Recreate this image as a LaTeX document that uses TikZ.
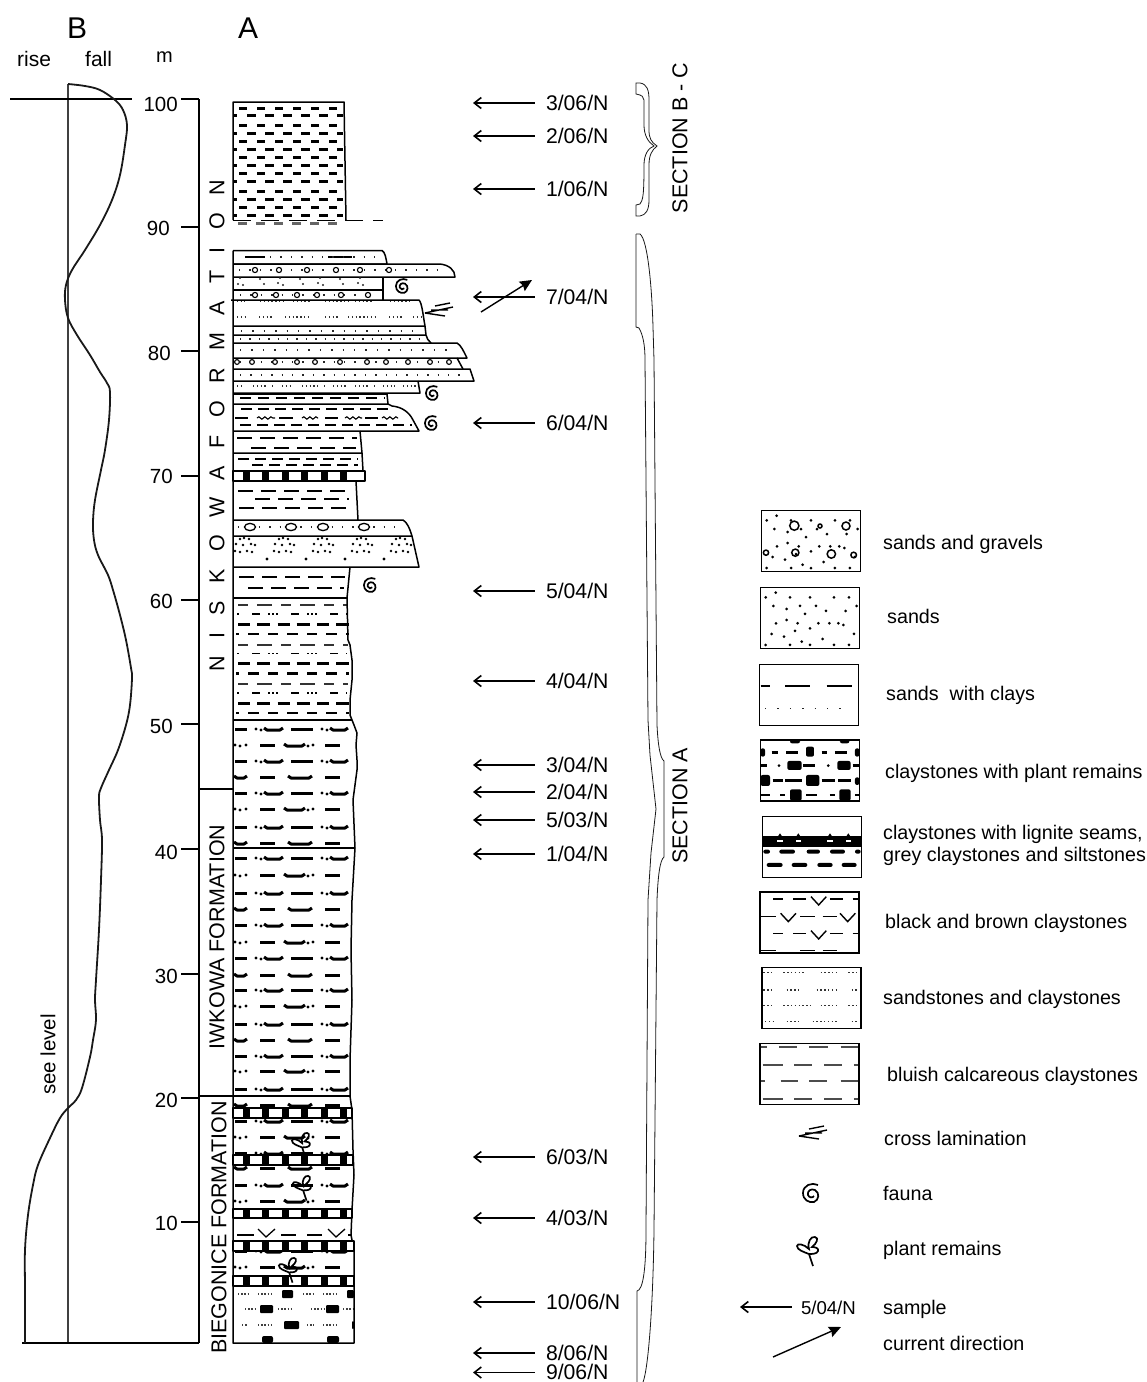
\documentclass[tikz,border=0pt]{standalone}
\usepackage{fontspec}
\setmainfont{Liberation Sans}
\usepackage{tikz}
\usetikzlibrary{arrows.meta}
\usetikzlibrary{decorations.pathmorphing}

\tikzset{
	sample/.style={anchor=west,inner sep=0pt,outer xsep=11pt,text height=14pt,text depth=0pt,font=\fontsize{21.2}{22}\selectfont},
	samplearrow/.style={line width=1.6pt,{Straight Barb[length=7pt,width=11pt,line width=1.6pt]}-},
	currentarrow/.style={line width=1.4pt,-{Stealth[length=12pt,width=11pt,inset=1.5pt]}},
	legbox/.style={draw,line width=1.4pt,inner sep=0pt,minimum width=99pt,minimum height=61pt},
	legtext/.style={anchor=base west,inner sep=0pt,font=\fontsize{19.7}{22}\selectfont},
	axislabel/.style={anchor=east,inner sep=0pt,font=\fontsize{20.5}{22}\selectfont},
	formation/.style={rotate=90,inner sep=0pt,font=\fontsize{21.5}{24}\selectfont},
	bed/.style={line width=1.5pt,line join=round},
	blob/.style={line width=3pt,line join=round},
	thinclay/.style={line width=1.2pt,dash pattern=on 14pt off 9pt},
	thickdash/.style={line width=3pt},
	dotrow/.style={line width=1.4pt,black!85,dash pattern=on 1.4pt off 9pt},
	sandline/.style={line width=1.4pt,black!80,dash pattern=on 1.4pt off 2.4pt},
	pebble/.style={line width=1.1pt,fill=white},
	faunamark/.pic={
		\draw[line width=1.7pt] (7,-8) .. controls (1,-11) and (-8,-8) .. (-8,0) .. controls (-8,7) and (-2,10) .. (3,9) .. controls (8,7) and (9,0) .. (4,-3) .. controls (0,-5) and (-4,-2) .. (-3,2) .. controls (-2,5) and (2,5) .. (3,3);
	},
	plantmark/.pic={
		\draw[line width=1.7pt] (3,16) -- (-1,4) .. controls (-6,2) and (-13,0) .. (-13,-4) .. controls (-13,-7) and (-6,-6) .. (-1,-1) .. controls (-3,-8) and (1,-14) .. (5,-13) .. controls (9,-12) and (7,-7) .. (2,-3) .. controls (5,-3) and (9,-2) .. (8,1) .. controls (7,4) and (2,4) .. (-1,4);
	},
	crossmark/.pic={
		\draw[line width=1.4pt] (0,0) -- (28,-6) (10,-7) -- (25,-10) (0,0) -- (20,3) (6,-3) -- (23,-3);
	},
}

\newcommand{\cdash}[3]{\draw[blob] (#1,#3) -- (#2,#3);}
\newcommand{\cwave}[3]{\draw[blob] (#1,#3-1) -- (#1+3,#3+1) -- (#2-3,#3+1) -- (#2,#3-1);}
\newcommand{\cspot}[2]{\fill (#1,#2) circle (1.7pt);}
\newcommand{\clayA}[1]{\cdash{235}{247}{#1}\cspot{256}{#1}\cspot{261}{#1+1}\cwave{264}{283}{#1}\cdash{291}{313}{#1}\cspot{322}{#1}\cspot{327}{#1+1}\cwave{330}{348}{#1}}
\newcommand{\clayB}[1]{\cspot{235}{#1}\cspot{240}{#1+1}\cspot{246}{#1}\cdash{260}{275}{#1}\cwave{284}{305}{#1}\cspot{308}{#1+1}\cspot{313}{#1}\cdash{325}{340}{#1}}
\newcommand{\clayD}[1]{\cwave{234}{247}{#1}\cdash{260}{275}{#1}\cwave{288}{312}{#1}\cdash{325}{340}{#1}}
\newcommand{\lignite}[3]{
	\draw[bed,fill=white] (233,#1) rectangle (#3,#2);
	\foreach \k in {0,...,5} \fill (243+19.4*\k,#1) rectangle (250+19.4*\k,#2);
}
\newcommand{\sandspots}{
	\foreach \px/\py in {137/278,107/292,180/292,240/292,312/292,357/292,130/318,170/327,210/318,258/318,288/333,347/333,380/318,170/360,225/342,203/370,138/370,298/370,325/370,265/370,340/375,240/385,125/402,195/393,372/402,162/410,278/417,215/425,107/435,180/435,240/435,312/435,357/435}
		\fill (\px,\py) circle (1.5pt);
}

\begin{document}
\begin{tikzpicture}[x=1pt,y=-1pt]
	\useasboundingbox (0,0) rectangle (1147,1382);

	\node[anchor=base west,inner sep=0pt,font=\fontsize{30}{32}\selectfont] (B) at (67,38) {B};
	\node[anchor=base west,inner sep=0pt,font=\fontsize{30}{32}\selectfont] (A) at (238,38) {A};
	\node[legtext,font=\fontsize{21}{22}\selectfont] (rise) at (17,66) {rise};
	\node[legtext,font=\fontsize{21}{22}\selectfont] (fall) at (85,66) {fall};
	\node[legtext,font=\fontsize{20}{22}\selectfont] (m) at (156,62) {m};

	\draw[line width=1.1pt,black!75] (68,84) -- (68,1343);
	\draw[line width=1.4pt] (10,99) -- (132,99);
	\draw[line width=1.4pt] (22,1343) -- (199,1343);
	\draw[line width=1.8pt,black!90] plot[smooth,tension=0.6] coordinates {(68,84) (85,86) (100,90) (115,100) (123,110) (127,125) (125,145) (120,175) (112,200) (100,225) (85,250) (72,270) (66,285) (65,300) (68,318) (77,335) (90,355) (100,372) (107,383) (110,392) (109,420) (105,450) (101,470) (95,500) (93,522) (94,540) (98,555) (108,575) (113,590) (120,615) (126,640) (131,668) (132,678) (130,705) (126,725) (118,750) (109,770) (101,788) (99,797) (100,820) (102,840) (101,880) (99,930) (96,980) (95,1000) (96,1020) (93,1040) (90,1057) (82,1088) (76,1100) (68,1108) (60,1118) (50,1138) (38,1165) (33,1185) (28,1215) (25,1250) (25,1290) (25,1343)};
	\node[rotate=90,inner sep=0pt,font=\fontsize{20.5}{22}\selectfont] (seelevel) at (48,1054.5) {see level};

	\draw[line width=1.3pt] (199,99) -- (199,1343);
	\foreach \lab/\lx/\ly/\ty in {100/178/104/99,90/170/228/227,80/171/353/351,70/173/476/476,60/173/601/600,50/173/726/724,40/178/852/849,30/178/976/974,20/178/1100/1098,10/178/1223/1222}{
		\node[axislabel] (t\lab) at (\lx,\ly) {\lab};
		\draw[line width=1.3pt] (181,\ty) -- (199,\ty);
	}
	\draw[line width=1.2pt] (199,789) -- (233,789);
	\draw[line width=1.2pt] (199,1096) -- (233,1096);

	\node[formation] (niskowa) at (217,426) {\spaceskip=17.4pt N I S K O W A F O R M A T I O N};
	\node[formation] (iwkowa) at (217,937) {IWKOWA FORMATION};
	\node[formation] (biegonice) at (219,1227.5) {BIEGONICE FORMATION};

	\foreach \yy in {108,125,141,157,173,191,207}
		\draw[thickdash,dash pattern=on 8pt off 10pt] (239,\yy) -- (343,\yy);
	\foreach \yy in {115.7,133,149,165,181,199,215}{
		\draw[thickdash] (233,\yy) -- (237,\yy);
		\draw[thickdash,dash pattern=on 9pt off 9pt] (247,\yy) -- (343,\yy);
	}
	\draw[thickdash,black!60,dash pattern=on 9pt off 9pt] (238,223) -- (343,223);
	\draw[bed] (233,220) -- (233,102) -- (344,102) -- (346,220);
	\draw[bed,dash pattern=on 18pt off 10pt] (233,220.5) -- (383,220.5);

	\draw[bed] (233,250.5) -- (382,250.5) .. controls (385,252) and (386,258) .. (387,264) -- (233,264);
	\draw[bed] (233,264) -- (440,264) .. controls (449,265) and (455,270) .. (455,277) -- (233,277);
	\draw[bed] (383,277) -- (383,300);
	\draw[bed] (233,290) -- (383,290);
	\draw[bed] (231,300) -- (419,300) .. controls (422,303) and (423,315) .. (425,326) -- (233,326);
	\draw[bed] (425,326) -- (426,335) -- (233,335);
	\draw[bed] (426,335) .. controls (427,338) and (428,341) .. (431,343);
	\draw[bed] (233,343) -- (457,343) .. controls (461,345) and (464,352) .. (467,358) -- (233,358);
	\draw[bed] (457,358) -- (463,369);
	\draw[bed] (233,369) -- (470,369) -- (474,381) -- (233,381);
	\draw[bed] (418,381) -- (420,393) -- (233,393);
	\draw[bed] (233,394) -- (387,394) -- (388,404) -- (233,404);
	\draw[bed] (388,404) -- (392,406) .. controls (402,407) and (409,412) .. (413,420) -- (419,431) -- (233,431);
	\draw[bed] (360,431) -- (362,453) -- (233,453);
	\draw[bed] (362,453) -- (363,471);
	\draw[bed] (356,481) -- (358,520);
	\draw[bed] (233,520) -- (403,520) .. controls (407,522) and (410,529) .. (412,536) -- (233,536);
	\draw[bed] (412,536) -- (419,567) -- (233,567);
	\draw[bed] (233,598) -- (347,598);
	\draw[bed] (350,567) -- (347,598);
	\draw[bed] (233,720) -- (352,720);
	\draw[bed] (233,848) -- (354,848);
	\draw[bed] (233,1096) -- (350,1096);

	\draw[line width=1.2pt] (245,257) -- (265,257) (328,257) -- (352,257);
	\draw[dotrow] (270,257) -- (380,257);
	\draw[dotrow] (239,270) -- (440,270);
	\foreach \xx in {255,279,307,336,360,389}
		\draw[pebble] (\xx,270) circle (2.6pt);
	\foreach \xx/\yy in {238/284,243/285,264/284,278/283,283/285,303/284,318/283,323/285,343/284,358/283,363/285,240/278,260/279,280/278,300/279,320/278,340/279,360/278}
		\fill[black!85] (\xx,\yy) circle (1.1pt);
	\draw[dotrow] (240,295) -- (372,295);
	\foreach \xx in {255,276,297,317,341,368}
		\draw[pebble] (\xx,295) circle (2.6pt);
	\foreach \xa/\xb in {233/245,260/283,293/310,325/350,355/373,390/410}
		\draw[sandline] (\xa,301.5) -- (\xb,301.5);
	\foreach \xa/\xb in {237/245,259/273,285/310,325/338,348/375,389/403,413/422}
		\draw[sandline] (\xa,317) -- (\xb,317);
	\draw[dotrow,dash pattern=on 1.4pt off 10pt] (241,331) -- (420,331);
	\draw[dotrow,dash pattern=on 1.4pt off 8pt] (240,339) -- (425,339);
	\draw[dotrow,dash pattern=on 1.4pt off 10pt] (240,350) -- (455,350);
	\draw[dotrow] (240,362) -- (450,362);
	\foreach \xx in {237,252,275,297,315,340,367,386,408,430,449}
		\draw[pebble] (\xx,362) circle (2.4pt);
	\draw[dotrow] (240,375) -- (465,375);
	\foreach \xa/\xb in {237/243,253/267,272/274,282/293,302/318,324/326,333/347,355/368,374/376,383/395,403/417}
		\draw[sandline] (\xa,386) -- (\xb,386);
	\draw[thinclay,dash pattern=on 11pt off 7pt] (240,398) -- (385,398);
	\draw[thinclay,dash pattern=on 11pt off 6pt] (241,409) -- (390,409);
	\foreach \xa/\xb in {235/248,279/293,325/338,365/378}
		\draw[line width=2pt] (\xa,418) -- (\xb,418);
	\foreach \xa/\xb in {257/275,302/318,345/362,382/398}
		\draw[line width=1.1pt,decorate,decoration={snake,amplitude=1.2pt,segment length=6pt}] (\xa,418) -- (\xb,418);
	\draw[thinclay,dash pattern=on 11pt off 6pt] (240,425) -- (412,425);
	\draw[thinclay,dash pattern=on 15pt off 8pt] (237,438) -- (357,438);
	\draw[thinclay,dash pattern=on 15pt off 8pt] (251,448) -- (356,448);
	\draw[thinclay,dash pattern=on 11pt off 6pt] (238,459) -- (358,459);
	\draw[thinclay,dash pattern=on 11pt off 6pt] (252,465) -- (358,465);
	\draw[thinclay,dash pattern=on 15pt off 8pt] (238,491) -- (352,491);
	\draw[thinclay,dash pattern=on 15pt off 8pt] (255,499) -- (349,499);
	\draw[thinclay,dash pattern=on 15pt off 8pt] (239,508) -- (353,508);
	\draw[dotrow] (238,527) -- (402,527);
	\foreach \xx in {250,291,323,364}
		\draw[pebble,line width=1.3pt] (\xx,527) ellipse (5.5pt and 3.6pt);
	\foreach \k in {0,...,4}
		\foreach \xx/\yy in {240/539,244/538,249/539,236/544,243/545,251/544,255/545,235/551,240/552,247/551,252/552}
			\fill (\xx+39*\k,\yy) circle (1.3pt);
	\foreach \xx in {267,306,345,384}
		\fill (\xx,559) circle (1.6pt);
	\draw[thinclay,dash pattern=on 15pt off 8pt] (239,577) -- (345,577);
	\draw[thinclay,dash pattern=on 15pt off 8pt] (248,588) -- (344,588);

	\foreach \yy in {605,644.5,684}{
		\draw[line width=2pt,black!80,dash pattern=on 10pt off 9pt on 15pt off 9pt] (238,\yy) -- (348,\yy);
		\draw[line width=1.6pt,dash pattern=on 8pt off 8pt on 1.6pt off 2.4pt on 1.6pt off 2.4pt on 1.6pt off 13.4pt,dash phase=23pt] (236,\yy+9) -- (347,\yy+9);
		\draw[line width=3pt,dash pattern=on 12pt off 7pt on 13pt off 7.7pt] (238,\yy+19) -- (349,\yy+19);
		\draw[line width=2.2pt,dash pattern=on 11pt off 9pt on 10pt off 9pt,dash phase=27pt] (236,\yy+29) -- (349,\yy+29);
	}
	\foreach \yy in {729,761,793,827,858,893,925,958,990,1024,1056,1089,1121,1153,1185,1251}{
		\clayA{\yy}
	}
	\foreach \yy in {745,809,875,942,1006,1071,1137,1201,1267}{
		\clayB{\yy}
	}
	\foreach \yy in {777,843,909,975,1040,1105,1168}{
		\clayD{\yy}
	}

	\foreach \xa/\xb in {237/254,281/296,307/322,348/351}
		\draw[line width=1.3pt] (\xa,1235) -- (\xb,1235);
	\foreach \xx in {258,328}
		\draw[line width=1.3pt] (\xx,1229) -- (\xx+8,1237) -- (\xx+17,1229);

	\foreach \yy/\xa/\xb in {1294/238/248,1294/258/272,1294/303/313,1294/323/337,1309/245/256,1309/278/292,1309/311/325,1309/343/353,1325/242/248,1325/258/272,1325/307/314,1325/323/337}
		\draw[line width=1.3pt,black!75,dash pattern=on 1.4pt off 1.8pt] (\xa,\yy) -- (\xb,\yy);
	\foreach \xa/\xb/\yy in {282/293/1294,347/354/1294,260/273/1309,326/339/1309,284/299/1325,352/354/1325}
		\fill[rounded corners=1pt] (\xa,\yy-4) rectangle (\xb,\yy+4);
	\foreach \xa/\xb in {262/273,327/339}
		\fill[rounded corners=2pt] (\xa,1343) rectangle (\xb,1336);

	\draw[bed] (233,250.5) -- (233,1343) -- (354,1343) -- (354,1300) -- (354,1250) -- (351,1235) -- (352,1210) -- (354,1175) -- (353,1150) -- (352,1110) -- (350,1096) -- (350,1060) -- (352,1000) -- (351,950) -- (352,900) -- (355,848) -- (353,800) -- (355,785) -- (357,770) -- (357,760) -- (356,745) -- (357,733) -- (354,725) -- (350,715) -- (350,700) -- (352,680) -- (352,660) -- (350,645) -- (348,640) -- (347,598);
	\lignite{471}{481}{365}
	\lignite{1108}{1118}{352}
	\lignite{1155}{1165}{353}
	\lignite{1209}{1218}{352}
	\lignite{1241}{1251}{354}
	\lignite{1276}{1286}{354}

	\foreach \xx/\yy in {402/286,432/393,431/423,370/585}
		\pic[scale=0.76] at (\xx,\yy) {faunamark};
	\foreach \xx/\yy in {303/1144,304/1187,290/1269}
		\pic[scale=0.85] at (\xx,\yy) {plantmark};
	\pic at (425,313) {crossmark};

	\foreach[count=\i] \txt/\yy in {{3/06/N}/103,{2/06/N}/136,{1/06/N}/189,{7/04/N}/297,{6/04/N}/423,{5/04/N}/591,{4/04/N}/681,{3/04/N}/765,{2/04/N}/792,{5/03/N}/820,{1/04/N}/854,{6/03/N}/1157,{4/03/N}/1218,{10/06/N}/1302,{8/06/N}/1353,{9/06/N}/1372.5}{
		\node[sample] (s\i) at (535,\yy) {\txt};
		\coordinate (e\i) at (473,\yy);
		\draw[samplearrow] (e\i) -- (s\i.west);
	}
	\coordinate (cfrom) at (481,312);
	\coordinate (cto) at (532,280);
	\draw[currentarrow] (cfrom) -- (cto);

	\draw[line width=0.8pt,black!90] (636,83) -- (640,83) .. controls (647,84) and (649,90) .. (649,100) -- (649,130) .. controls (649,138) and (651,142) .. (657,146) .. controls (652,150) and (649,155) .. (649,165) -- (649,200) .. controls (649,210) and (646,215) .. (640,216) -- (636,216) -- (636,205) -- (640,204) .. controls (643,200) and (644,195) .. (644,165) .. controls (644,155) and (648,148) .. (654,146) .. controls (648,142) and (644,135) .. (644,125) -- (644,100) .. controls (644,97) and (642,95) .. (636,94) -- cycle;
	\draw[line width=0.8pt,black!90] (636,234) -- (640,234) .. controls (648,240) and (652,290) .. (653,327) -- (654,360) -- (657,725) .. controls (658,745) and (660,758) .. (664,761) -- (664,857) .. controls (660,860) and (658,875) .. (657,900) -- (654,1230) .. controls (653,1310) and (648,1370) .. (643,1382);
	\draw[line width=0.8pt,black!90] (636,234) -- (636,327) -- (639,328) .. controls (643,335) and (645,345) .. (645,360) -- (648,720) -- (650,755) -- (656,809) -- (651,853) -- (648,900) -- (646,1230) .. controls (646,1270) and (643,1290) .. (637,1291) -- (637,1382);
	\node[formation] (secbc) at (680,138) {SECTION B - C};
	\node[formation] (seca) at (680,806) {SECTION A};

	\node[legbox] (box1) at (811,541) {};
	\node[legbox] (box2) at (810,618) {};
	\node[legbox] (box3) at (809,695) {};
	\node[legbox] (box4) at (810,770.5) {};
	\node[legbox] (box5) at (812,847) {};
	\node[legbox] (box6) at (809.5,922.3) {};
	\node[legbox] (box7) at (811.3,998) {};
	\node[legbox] (box8) at (809.5,1074) {};

	\begin{scope}[shift={(730,500)},x=0.3333pt,y=-0.3333pt]
		\sandspots
		\begin{scope}[shift={(3,-231)}]
			\sandspots
		\end{scope}
		\foreach \cx/\cy/\rr in {193/77/4.6,348/78/4,196/158/3.6,304/162/4.2,371/165/2.8,108/158/2.6,270/78/2}
			\draw[line width=1.5pt] (\cx,\cy) circle (\rr pt);

		\foreach \xa/\xb/\yy in {92/120/558,165/240/558,290/365/558}
			\draw[line width=1.3pt] (\xa,\yy) -- (\xb,\yy);
		\draw[dotrow,dash pattern=on 1.4pt off 11pt] (105,625) -- (362,625);

		\foreach \xa/\xb/\yy in {125/145/758,168/205/758,275/292/758,315/352/758,92/110/797,220/255/797,368/388/797,128/160/842,165/215/842,275/315/842,325/362/842,92/120/885,228/262/885,375/388/885,300/315/885,150/165/885}
			\draw[line width=2.8pt] (\xa,\yy) -- (\xb,\yy);
		\foreach \xa/\xb/\ya/\yb in {228/252/740/770,92/105/745/770,375/388/745/770,172/215/783/810,322/362/783/810,92/120/825/858,228/268/825/858,375/388/832/855,180/215/868/902,328/362/868/902,180/210/720/730,330/358/720/730}
			\fill[rounded corners=2pt] (\xa,\ya) rectangle (\xb,\yb);
		\fill (147,797) circle (1.5pt) (295,797) circle (1.5pt);

		\fill (97,1007) rectangle (395,1040);
		\foreach \xx in {150,205,300,355}{
			\fill[white] (\xx-8,1020) rectangle (\xx+8,1026);
			\fill (\xx-6,1009) -- (\xx,1000) -- (\xx+6,1009) -- cycle;
		}
		\foreach \xa/\xb/\yy in {148/195/1055,230/270/1055,300/345/1055,100/120/1055,375/392/1055,110/158/1095,185/232/1095,262/308/1095,335/380/1095}
			\fill[rounded corners=2pt] (\xa,\yy+6) rectangle (\xb,\yy-6);

		\foreach \xa/\xb/\yy in {130/158/1197,190/228/1197,300/338/1197,368/385/1197,92/138/1250,210/255/1250,278/320/1250,130/158/1300,190/228/1300,300/338/1300,368/385/1300,92/138/1352,210/255/1352,278/320/1352}
			\draw[line width=1.4pt] (\xa,\yy) -- (\xb,\yy);
		\foreach \xx/\yy in {243/1190,152/1240,330/1240,243/1292}
			\draw[line width=1.4pt] (\xx,\yy) -- (\xx+23,\yy+25) -- (\xx+46,\yy);
	\end{scope}

	\begin{scope}[shift={(730,960)},x=0.3333pt,y=-0.3333pt]
		\foreach \yy/\xa/\xb in {37/100/128,37/160/222,37/272/325,37/355/380,90/100/128,90/170/212,90/260/325,90/365/385,137/100/128,137/160/240,137/272/325,137/355/380,185/105/128,185/170/212,185/248/325,185/365/385}
			\draw[sandline] (\xa,\yy) -- (\xb,\yy);
		\foreach \yy/\xa/\xb in {260/92/110,260/147/200,260/237/295,260/332/385,315/98/158,315/193/247,315/283/337,315/372/385,363/92/104,363/152/205,363/237/290,363/332/385,417/98/158,417/193/247,417/283/337,417/372/385}
			\draw[line width=1.8pt,black!70] (\xa,\yy) -- (\xb,\yy);
	\end{scope}

	\node[legtext] (l1) at (883,549) {sands and gravels};
	\node[legtext] (l2) at (887,623) {sands};
	\node[legtext] (l3) at (886,700) {sands \ with clays};
	\node[legtext] (l4) at (885,778) {claystones with plant remains};
	\node[legtext] (l5) at (883,839) {claystones with lignite seams,};
	\node[legtext] (l5b) at (883,861) {grey claystones and siltstones};
	\node[legtext] (l6) at (885,928) {black and brown claystones};
	\node[legtext] (l7) at (883,1004) {sandstones and claystones};
	\node[legtext] (l8) at (887,1081) {bluish calcareous claystones};
	\node[legtext] (l9) at (884,1145) {cross lamination};
	\node[legtext] (l10) at (883,1200) {fauna};
	\node[legtext] (l11) at (883,1255) {plant remains};
	\node[legtext] (l12) at (883,1314) {sample};
	\node[legtext] (l13) at (883,1350) {current direction};

	\pic at (799,1136) {crossmark};
	\pic at (811,1193) {faunamark};
	\pic at (810,1250) {plantmark};

	\node[sample,outer xsep=9pt,font=\fontsize{18.6}{20}\selectfont] (legsample) at (792,1307) {5/04/N};
	\coordinate (legtip) at (740,1307);
	\draw[samplearrow] (legtip) -- (legsample.west);
	\coordinate (legfrom) at (773,1357);
	\coordinate (legto) at (841,1327);
	\draw[currentarrow] (legfrom) -- (legto);
\end{tikzpicture}
\end{document}
